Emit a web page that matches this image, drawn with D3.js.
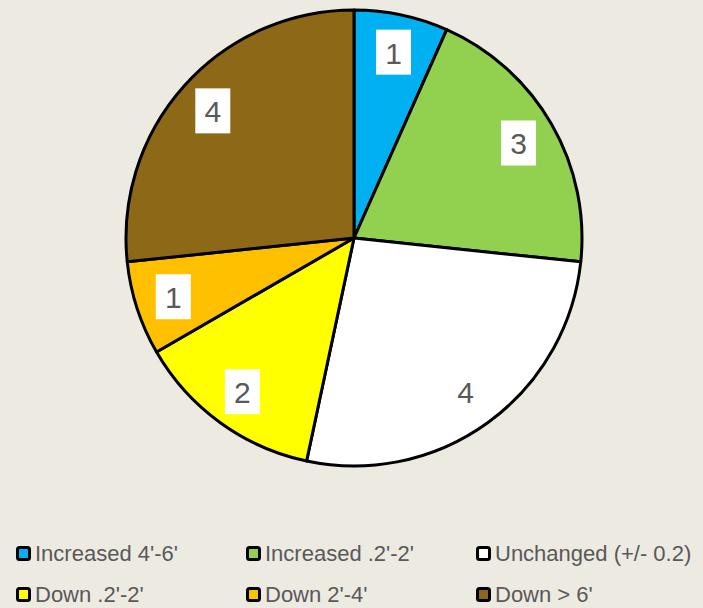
<!DOCTYPE html>
<html><head><meta charset="utf-8">
<script src="https://cdn.jsdelivr.net/npm/d3@7"></script>
<style>body{margin:0;background:#EDEAE2;}svg{display:block;}</style>
</head><body>
<script>
const categories = ["Increased 4'-6'", "Increased .2'-2'", "Unchanged (+/- 0.2)", "Down .2'-2'", "Down 2'-4'", "Down > 6'"];
const values = [1, 3, 4, 2, 1, 4];
const colors = ["#00B0F0", "#92D050", "#FFFFFF", "#FFFF00", "#FFC000", "#8D6817"];

const W = 703, H = 608;
const svg = d3.select("body").append("svg").attr("width", W).attr("height", H);
svg.append("rect").attr("width", W).attr("height", H).attr("fill", "#EDEAE2");

const cx = 354, cy = 238, R = 228;
const data = categories.map((c, i) => ({name: c, value: values[i], color: colors[i]}));
const pie = d3.pie().value(d => d.value).sort(null);
const arcs = pie(data);
const arc = d3.arc().innerRadius(0).outerRadius(R);
const labelArc = d3.arc().innerRadius(190).outerRadius(190);

const g = svg.append("g").attr("transform", `translate(${cx},${cy})`);
g.selectAll("path.slice").data(arcs).join("path")
  .attr("class", "slice")
  .attr("d", arc)
  .attr("fill", d => d.data.color)
  .attr("stroke", "#000")
  .attr("stroke-width", 3)
  .attr("stroke-linejoin", "round");

const lab = g.selectAll("g.lab").data(arcs).join("g").attr("class", "lab")
  .attr("transform", d => `translate(${labelArc.centroid(d)})`);
lab.append("rect").attr("x", -17.5).attr("y", -22.5).attr("width", 35).attr("height", 45)
  .attr("fill", "#FFFFFF");
lab.append("text").attr("text-anchor", "middle").attr("dy", "0.38em")
  .attr("font-family", "Liberation Sans, Arial, sans-serif").attr("font-size", 30)
  .attr("fill", "#595959").text(d => d.data.value);

const legend = svg.append("g");
const li = legend.selectAll("g").data(data).join("g")
  .attr("transform", (d, i) => `translate(${16 + (i % 3) * 230},${(i < 3 ? 546 : 587)})`);
li.append("rect").attr("x", 1.5).attr("y", 1.5).attr("width", 12).attr("height", 12).attr("rx", 2)
  .attr("fill", d => d.color).attr("stroke", "#000").attr("stroke-width", 3);
li.append("text").attr("x", 19).attr("y", 7.5).attr("dy", "0.36em")
  .attr("font-family", "Liberation Sans, Arial, sans-serif").attr("font-size", 22)
  .attr("fill", "#595959").text(d => d.name);
</script>
</body></html>
